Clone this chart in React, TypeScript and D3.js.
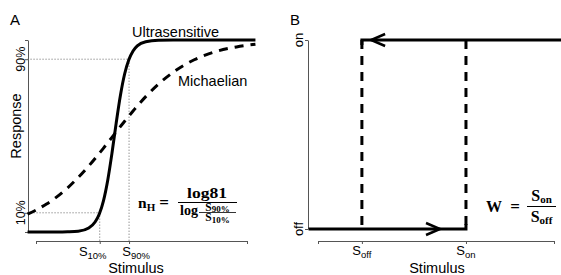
import React, { useEffect, useRef } from 'react';
import * as d3 from 'd3';

// panel A: stimulus on a log axis, scaled 0..1
const stimulus = [-0.04, 0, 0.05, 0.1, 0.15, 0.2, 0.25, 0.28, 0.3, 0.32, 0.34, 0.36, 0.38, 0.4, 0.42, 0.44, 0.46, 0.48, 0.52, 0.58, 0.65, 0.75, 0.85, 0.95, 1.04];
const ultrasensitive = [0, 0, 0, 0, 0.001, 0.004, 0.021, 0.052, 0.094, 0.164, 0.27, 0.41, 0.567, 0.711, 0.823, 0.897, 0.943, 0.969, 0.991, 0.999, 1, 1, 1, 1, 1];
const michaelian = [0.093, 0.114, 0.146, 0.184, 0.23, 0.284, 0.344, 0.383, 0.41, 0.437, 0.465, 0.493, 0.521, 0.549, 0.577, 0.604, 0.63, 0.656, 0.705, 0.77, 0.832, 0.897, 0.939, 0.964, 0.978];
const thresholds = [0.302, 0.441]; // S10%, S90%
const responseLevels = [0.1, 0.9];
const responseTicks = [0, 0.1, 0.9, 1];
const responseLabels = ['', '10%', '90%', ''];
const stimulusTicksA = [0, 0.302, 0.441, 1];
const stimulusSubsA = ['', '10%', '90%', ''];

// panel B: bistable switch
const switchPoints = [0.186, 0.627]; // S_off, S_on
const stimulusTicksB = [0, 0.186, 0.627, 1];
const stimulusSubsB = ['', 'off', 'on', ''];
const stateTicks = [0, 1];
const stateLabels = ['off', 'on'];
const arrowTips = [0.225, 0.517]; // on branch (leftwards), off branch (rightwards)

const SANS = '"Liberation Sans", Arial, sans-serif';
const SERIF = '"Liberation Serif", "Times New Roman", serif';

export default function App() {
  const ref = useRef<SVGSVGElement>(null);

  useEffect(() => {
    const svg = d3.select(ref.current);
    svg.selectAll('*').remove();

    const xA = d3.scaleLinear().domain([0, 1]).range([36, 247]);
    const yA = d3.scaleLinear().domain([0, 1]).range([232, 40]);
    const xB = d3.scaleLinear().domain([0, 1]).range([318, 554]);
    const yB = d3.scaleLinear().domain([0, 1]).range([229, 40]);

    // text with a subscript, centred on x
    const subText = (g: any, x: number, y: number, main: string, sub: string, size: number, subSize: number, dy: number) => {
      const t = g.append('text')
        .attr('x', x).attr('y', y)
        .attr('text-anchor', 'middle')
        .attr('font-size', size);
      t.append('tspan').text(main);
      t.append('tspan').attr('dy', dy).attr('font-size', subSize).text(sub);
      return t;
    };

    // ---------- panel A ----------
    svg.append('text').attr('x', 10).attr('y', 25)
      .attr('font-family', SANS).attr('font-size', 15).text('A');

    const gyA = svg.append('g').attr('transform', 'translate(28,0)')
      .call(d3.axisLeft(yA).tickValues(responseTicks).tickSize(3).tickSizeOuter(0).tickFormat(() => ''));
    const gxA = svg.append('g').attr('transform', 'translate(0,241)')
      .call(d3.axisBottom(xA).tickValues(stimulusTicksA).tickSize(3).tickSizeOuter(0).tickFormat(() => ''));
    [gyA, gxA].forEach(g => g.selectAll('path, line').attr('stroke', '#555'));

    responseTicks.forEach((v, i) => {
      if (!responseLabels[i]) return;
      svg.append('text')
        .attr('transform', `translate(25,${yA(v)}) rotate(-90)`)
        .attr('text-anchor', 'middle')
        .attr('font-family', SANS).attr('font-size', 12.5)
        .text(responseLabels[i]);
    });
    const labA = svg.append('g').attr('font-family', SANS);
    stimulusTicksA.forEach((v, i) => {
      if (!stimulusSubsA[i]) return;
      const nudge = i === 1 ? -7 : 7;
      subText(labA, xA(v) + nudge, 256, 'S', stimulusSubsA[i], 13, 9.5, 3);
    });

    svg.append('text')
      .attr('transform', 'translate(21,126) rotate(-90)')
      .attr('text-anchor', 'middle')
      .attr('font-family', SANS).attr('font-size', 14.5)
      .text('Response');
    svg.append('text').attr('x', 136).attr('y', 273)
      .attr('text-anchor', 'middle')
      .attr('font-family', SANS).attr('font-size', 14.5)
      .text('Stimulus');

    // dotted guides at 10% and 90%
    responseLevels.forEach((lv, i) => {
      const sx = xA(thresholds[i]);
      svg.append('path')
        .attr('d', `M${xA(stimulus[0])},${yA(lv)}H${sx}V241`)
        .attr('fill', 'none').attr('stroke', '#666')
        .attr('stroke-width', 1).attr('stroke-dasharray', '1,2');
    });

    const line = d3.line<number>()
      .x((_, i) => xA(stimulus[i]))
      .y(d => yA(d))
      .curve(d3.curveMonotoneX);

    svg.append('path').attr('d', line(michaelian))
      .attr('fill', 'none').attr('stroke', '#000')
      .attr('stroke-width', 3).attr('stroke-dasharray', '9,7');
    svg.append('path').attr('d', line(ultrasensitive))
      .attr('fill', 'none').attr('stroke', '#000')
      .attr('stroke-width', 3);

    svg.append('text').attr('x', 132).attr('y', 37)
      .attr('font-family', SANS).attr('font-size', 14.5).text('Ultrasensitive');
    svg.append('text').attr('x', 178).attr('y', 86)
      .attr('font-family', SANS).attr('font-size', 14.5).text('Michaelian');

    // Hill coefficient formula
    const fA = svg.append('g').attr('font-family', SERIF).attr('font-weight', 'bold');
    const nH = fA.append('text').attr('x', 138).attr('y', 208).attr('font-size', 15.5);
    nH.append('tspan').text('n');
    nH.append('tspan').attr('dy', 3).attr('font-size', 11).text('H');
    fA.append('text').attr('x', 164).attr('y', 208).attr('text-anchor', 'middle').attr('font-size', 17).text('=');
    fA.append('line').attr('x1', 178).attr('x2', 237).attr('y1', 202.5).attr('y2', 202.5)
      .attr('stroke', '#000').attr('stroke-width', 1);
    fA.append('text').attr('x', 187).attr('y', 197.5).attr('font-size', 15)
      .attr('textLength', 40).attr('lengthAdjust', 'spacingAndGlyphs').text('log81');
    fA.append('text').attr('x', 180).attr('y', 214.5).attr('font-size', 15)
      .attr('textLength', 18).attr('lengthAdjust', 'spacingAndGlyphs').text('log');
    subText(fA, 217.5, 210.5, 'S', '90%', 11.5, 9, 1.5);
    fA.append('line').attr('x1', 199).attr('x2', 236).attr('y1', 212.5).attr('y2', 212.5)
      .attr('stroke', '#000').attr('stroke-width', 0.8);
    subText(fA, 217.5, 221, 'S', '10%', 11.5, 9, 1.5);

    // ---------- panel B ----------
    svg.append('text').attr('x', 290).attr('y', 25)
      .attr('font-family', SANS).attr('font-size', 15).text('B');

    const gyB = svg.append('g').attr('transform', 'translate(308,0)')
      .call(d3.axisLeft(yB).tickValues(stateTicks).tickSize(3).tickSizeOuter(0).tickFormat(() => ''));
    const gxB = svg.append('g').attr('transform', 'translate(0,241)')
      .call(d3.axisBottom(xB).tickValues(stimulusTicksB).tickSize(3).tickSizeOuter(0).tickFormat(() => ''));
    [gyB, gxB].forEach(g => g.selectAll('path, line').attr('stroke', '#555'));

    stateTicks.forEach((v, i) => {
      svg.append('text')
        .attr('transform', `translate(303,${yB(v)}) rotate(-90)`)
        .attr('text-anchor', 'middle')
        .attr('font-family', SANS).attr('font-size', 13)
        .text(stateLabels[i]);
    });
    const labB = svg.append('g').attr('font-family', SANS);
    stimulusTicksB.forEach((v, i) => {
      if (!stimulusSubsB[i]) return;
      subText(labB, xB(v), 255, 'S', stimulusSubsB[i], 13, 9.5, 3);
    });
    svg.append('text').attr('x', 437).attr('y', 273)
      .attr('text-anchor', 'middle')
      .attr('font-family', SANS).attr('font-size', 14.5)
      .text('Stimulus');

    const [sOff, sOn] = switchPoints;
    // dashed jumps
    switchPoints.forEach(s => {
      svg.append('line')
        .attr('x1', xB(s)).attr('x2', xB(s))
        .attr('y1', yB(1)).attr('y2', yB(0))
        .attr('stroke', '#000').attr('stroke-width', 3)
        .attr('stroke-dasharray', '9,7');
    });
    // on and off branches
    svg.append('path')
      .attr('d', `M${xB(sOff)},${yB(1) + 5}V${yB(1)}H${xB(1.04)}`)
      .attr('fill', 'none').attr('stroke', '#000').attr('stroke-width', 3);
    svg.append('path')
      .attr('d', `M${xB(-0.04)},${yB(0)}H${xB(sOn)}V${yB(0) - 5}`)
      .attr('fill', 'none').attr('stroke', '#000').attr('stroke-width', 3);
    // direction arrows
    const tipOn = xB(arrowTips[0]);
    const tipOff = xB(arrowTips[1]);
    svg.append('path')
      .attr('d', `M${tipOn + 14},${yB(1) - 6}L${tipOn},${yB(1)}L${tipOn + 14},${yB(1) + 6}`)
      .attr('fill', 'none').attr('stroke', '#000').attr('stroke-width', 2.5);
    svg.append('path')
      .attr('d', `M${tipOff - 14},${yB(0) - 6}L${tipOff},${yB(0)}L${tipOff - 14},${yB(0) + 6}`)
      .attr('fill', 'none').attr('stroke', '#000').attr('stroke-width', 2.5);

    // width formula
    const fB = svg.append('g').attr('font-family', SERIF).attr('font-weight', 'bold');
    fB.append('text').attr('x', 486).attr('y', 211.5).attr('font-size', 16).text('W');
    fB.append('text').attr('x', 515).attr('y', 212).attr('text-anchor', 'middle').attr('font-size', 17).text('=');
    fB.append('line').attr('x1', 527).attr('x2', 556).attr('y1', 206.5).attr('y2', 206.5)
      .attr('stroke', '#000').attr('stroke-width', 1);
    subText(fB, 541.5, 201, 'S', 'on', 16, 11, 2);
    subText(fB, 541.5, 221.5, 'S', 'off', 16, 11, 2);
  }, []);

  return (
    <svg ref={ref} width={561} height={275}
         style={{ position: 'absolute', left: 0, top: 0, background: '#fff' }} />
  );
}
